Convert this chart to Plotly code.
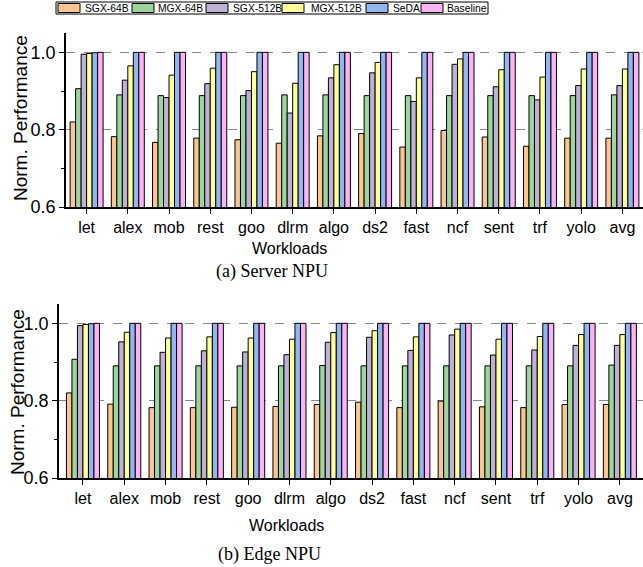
import plotly.graph_objects as go

workloads = ["let", "alex", "mob", "rest", "goo", "dlrm", "algo", "ds2", "fast", "ncf", "sent", "trf", "yolo", "avg"]
series_names = ["SGX-64B", "MGX-64B", "SGX-512B", "MGX-512B", "SeDA", "Baseline"]
colors = ["#FCC590", "#9DD69A", "#BEB0D6", "#FFFF99", "#92B6F0", "#FCB3F6"]

server_sgx64 = [0.820, 0.782, 0.767, 0.778, 0.774, 0.765, 0.784, 0.790, 0.755, 0.798, 0.781, 0.757, 0.778, 0.778]
server_mgx64 = [0.906, 0.890, 0.888, 0.888, 0.888, 0.890, 0.890, 0.888, 0.888, 0.888, 0.888, 0.888, 0.888, 0.890]
server_sgx512 = [0.995, 0.928, 0.883, 0.919, 0.901, 0.843, 0.934, 0.947, 0.873, 0.969, 0.911, 0.877, 0.914, 0.914]
server_mgx512 = [0.997, 0.965, 0.941, 0.959, 0.950, 0.920, 0.968, 0.974, 0.934, 0.983, 0.955, 0.936, 0.957, 0.957]
server_seda = [0.999, 1.0, 1.0, 1.0, 1.0, 1.0, 1.0, 1.0, 1.0, 1.0, 1.0, 1.0, 1.0, 1.0]
server_base = [1.0] * 14

edge_sgx64 = [0.820, 0.791, 0.782, 0.782, 0.783, 0.785, 0.790, 0.796, 0.782, 0.799, 0.784, 0.782, 0.790, 0.790]
edge_mgx64 = [0.907, 0.890, 0.890, 0.890, 0.890, 0.890, 0.891, 0.890, 0.890, 0.890, 0.890, 0.890, 0.890, 0.892]
edge_sgx512 = [0.994, 0.952, 0.925, 0.929, 0.926, 0.919, 0.951, 0.964, 0.930, 0.970, 0.918, 0.931, 0.943, 0.943]
edge_mgx512 = [0.997, 0.977, 0.962, 0.965, 0.962, 0.959, 0.976, 0.981, 0.965, 0.985, 0.959, 0.966, 0.971, 0.971]
edge_seda = [0.999, 1.0, 1.0, 1.0, 1.0, 1.0, 1.0, 1.0, 1.0, 1.0, 1.0, 1.0, 1.0, 1.0]
edge_base = [1.0] * 14

y_tickvals = [0.6, 0.8, 1.0]
y_ticktext = ["0.6", "0.8", "1.0"]

server = [server_sgx64, server_mgx64, server_sgx512, server_mgx512, server_seda, server_base]
edge = [edge_sgx64, edge_mgx64, edge_sgx512, edge_mgx512, edge_seda, edge_base]

W, H = 643, 567
fig = go.Figure()
for i, name in enumerate(series_names):
    fig.add_trace(go.Bar(x=workloads, y=server[i], name=name,
                         marker=dict(color=colors[i], line=dict(color="black", width=1)),
                         xaxis="x", yaxis="y", showlegend=False))
for i, name in enumerate(series_names):
    fig.add_trace(go.Bar(x=workloads, y=edge[i], name=name,
                         marker=dict(color=colors[i], line=dict(color="black", width=1)),
                         xaxis="x2", yaxis="y2", showlegend=False))

font = "Liberation Sans, Arial, sans-serif"
serif = "Liberation Serif, Times New Roman, serif"


def yaxis_cfg(domain, anchor):
    return dict(domain=domain, anchor=anchor, range=[0.6, 1.05], tickvals=y_tickvals, ticktext=y_ticktext,
                showgrid=True, gridcolor="#888888", griddash="dash", gridwidth=1, zeroline=False,
                showline=True, linecolor="black", linewidth=1.5, ticks="outside", ticklen=5, tickwidth=1.2,
                tickcolor="black", tickfont=dict(family=font, size=18, color="black"),
                minor=dict(tickvals=[0.7, 0.9], ticks="outside", ticklen=3, tickcolor="black", showgrid=False))


def xaxis_cfg(domain, anchor, rng):
    return dict(domain=domain, anchor=anchor, range=rng, showline=True, linecolor="black", linewidth=1.5,
                ticks="outside", ticklen=5, tickwidth=1.2, tickcolor="black", showgrid=False,
                tickfont=dict(family=font, size=16, color="black"))


def px_x(v):
    return v / W


def px_y(v):
    return 1 - v / H


# custom legend layout (pixel positions of legend entries)
legend_sym_x = [58, 132, 206, 282, 366, 421]
legend_txt_x = [83, 156, 231, 309, 391, 445]
legend_box = (56, 3, 488, 13)

shapes = [dict(type="rect", xref="paper", yref="paper",
               x0=px_x(legend_box[0]), x1=px_x(legend_box[2]), y0=px_y(legend_box[3] + 1), y1=px_y(legend_box[1] - 1),
               line=dict(color="black", width=1), fillcolor="white", layer="above")]
annotations = []
for i, name in enumerate(series_names):
    shapes.append(dict(type="rect", xref="paper", yref="paper",
                       x0=px_x(legend_sym_x[i]), x1=px_x(legend_sym_x[i] + 22),
                       y0=px_y(12.5), y1=px_y(3.5),
                       line=dict(color="black", width=1), fillcolor=colors[i], layer="above"))
    annotations.append(dict(text=name, x=px_x(legend_txt_x[i]), y=px_y(8.3), xref="paper", yref="paper",
                            xanchor="left", yanchor="middle", showarrow=False,
                            font=dict(family=font, size=10.3, color="black")))

labels = [
    ("Norm. Performance", 20, 118, -90, 19, font),
    ("Norm. Performance", 17, 392, -90, 19, font),
    ("Workloads", 289, 248, 0, 16, font),
    ("(a) Server NPU", 272, 271, 0, 18, serif),
    ("Workloads", 286, 525, 0, 16, font),
    ("(b) Edge NPU", 269, 554, 0, 18, serif),
]
for text, x, y, ang, size, fam in labels:
    annotations.append(dict(text=text, x=px_x(x), y=px_y(y), xref="paper", yref="paper", showarrow=False,
                            xanchor="center", yanchor="middle", textangle=ang,
                            font=dict(family=fam, size=size, color="black")))

fig.update_layout(
    width=W, height=H, margin=dict(l=0, r=0, t=0, b=0, autoexpand=False),
    plot_bgcolor="white", paper_bgcolor="white",
    barmode="group", bargap=0.2, bargroupgap=0,
    xaxis=xaxis_cfg([66 / W, 1.0], "y", [-0.5, 13.5]),
    yaxis=yaxis_cfg([px_y(207), px_y(33)], "x"),
    xaxis2=xaxis_cfg([59 / W, 1.0], "y2", [-0.58, 13.56]),
    yaxis2=yaxis_cfg([px_y(478), px_y(304)], "x2"),
    showlegend=False,
    shapes=shapes,
    annotations=annotations,
)

fig.write_html("out.html", config={"displayModeBar": False},
               post_script="document.body.style.margin='0';document.body.style.overflow='hidden';")
